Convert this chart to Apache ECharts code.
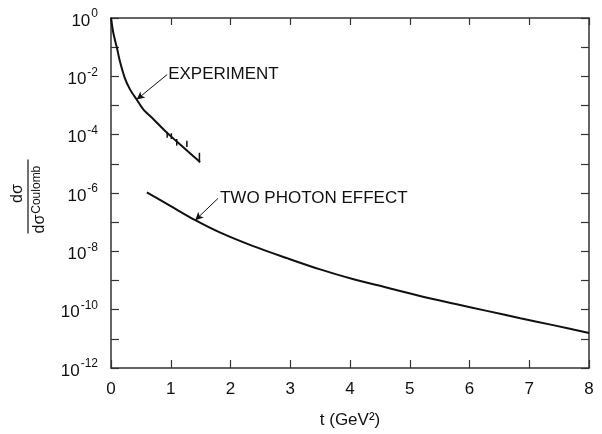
<!DOCTYPE html>
<html>
<head>
<meta charset="utf-8">
<script src="https://cdn.jsdelivr.net/npm/echarts@6/dist/echarts.min.js"></script>
<style>
  html, body { margin: 0; padding: 0; background: #fff; }
  #chart { width: 602px; height: 434px; }
</style>
</head>
<body>
<div id="chart"></div>
<script>
// 測定値と二光子効果の比 (dσ/dσ_Coulomb) — 図から読み取った値

const xTicks = [0, 1, 2, 3, 4, 5, 6, 7, 8];

// 実験曲線
const expT = [0, 0.04, 0.10, 0.15, 0.23, 0.32, 0.43, 0.54, 0.71, 0.93, 1.21, 1.49];
const expVal = [1.0, 0.30, 0.093, 0.032, 8.9e-3, 3.5e-3, 1.6e-3, 7.4e-4, 3.4e-4, 1.2e-4, 3.7e-5, 1.15e-5];

// 実験点のエラーバー (下限・上限)
const barT = [0.94, 1.01, 1.10, 1.27, 1.48];
const barLo = [7.9e-5, 7.1e-5, 4.2e-5, 3.8e-5, 1.1e-5];
const barHi = [1.26e-4, 1.12e-4, 7.1e-5, 6.2e-5, 2.4e-5];

// 二光子効果
const tpeT = [0.60, 1.0, 1.41, 1.82, 2.38, 2.94, 3.50, 4.06, 4.61, 5.17, 5.73, 6.29, 6.85, 7.40, 8.0];
const tpeVal = [1.05e-6, 3.55e-7, 1.17e-7, 4.47e-8, 1.51e-8, 5.89e-9, 2.40e-9, 1.10e-9,
                5.75e-10, 2.95e-10, 1.62e-10, 9.1e-11, 5.1e-11, 2.95e-11, 1.58e-11];

// 注記 (矢印の始点と先端)
const expArrow = [[0.94, 1.15e-2], [0.43, 1.6e-3]];
const tpeArrow = [[1.79, 6.5e-7], [1.41, 1.17e-7]];

const FONT = 'Liberation Sans';
const INK = '#111';
const AXIS = '#333';

function zip(a, b) {
    return a.map((v, i) => [v, b[i]]);
}

function yLabel(v) {
    const e = Math.round(Math.log10(v));
    if (e % 2 !== 0) return '';
    return '{b|10}{s|' + (e === 0 ? '0' : '-' + (-e)) + '}';
}

const axisLineStyle = { color: AXIS, width: 1.5 };
const tickStyle = { color: AXIS, width: 1.2 };

const chart = echarts.init(document.getElementById('chart'), null, { renderer: 'canvas' });

const option = {
    animation: false,
    backgroundColor: '#fff',
    grid: { left: 111, right: 13, top: 18, bottom: 63 },
    xAxis: [
        {
            type: 'value', min: 0, max: 8, interval: 1, position: 'bottom',
            axisLine: { onZero: false, lineStyle: axisLineStyle },
            axisTick: { inside: true, length: 8, lineStyle: tickStyle },
            axisLabel: { margin: 13, fontSize: 17, color: INK, fontFamily: FONT,
                         formatter: v => xTicks.includes(v) ? String(v) : '' },
            splitLine: { show: false },
            name: 't (GeV²)', nameLocation: 'middle', nameGap: 44,
            nameTextStyle: { fontSize: 17, color: INK, fontFamily: FONT }
        },
        {
            type: 'value', min: 0, max: 8, interval: 1, position: 'top',
            axisLine: { onZero: false, lineStyle: axisLineStyle },
            axisTick: { inside: true, length: 7, lineStyle: tickStyle },
            axisLabel: { show: false },
            splitLine: { show: false }
        }
    ],
    yAxis: [
        {
            type: 'log', logBase: 10, min: 1e-12, max: 1, interval: 1, position: 'left',
            axisLine: { show: true, onZero: false, lineStyle: axisLineStyle },
            axisTick: { show: true, inside: true, length: 8, lineStyle: tickStyle },
            axisLabel: {
                margin: 13, color: INK, formatter: yLabel,
                rich: {
                    b: { fontSize: 17, fontFamily: FONT, color: INK, padding: [6, 0, 0, 0] },
                    s: { fontSize: 12, fontFamily: FONT, color: INK, padding: [0, 0, 8, 1] }
                }
            },
            splitLine: { show: false },
            minorTick: { show: false }
        },
        {
            type: 'log', logBase: 10, min: 1e-12, max: 1, interval: 1, position: 'right',
            axisLine: { show: true, onZero: false, lineStyle: axisLineStyle },
            axisTick: { show: true, inside: true, length: 8, lineStyle: tickStyle },
            axisLabel: { show: false },
            splitLine: { show: false }
        }
    ],
    series: [
        {
            name: 'EXPERIMENT', type: 'line', smooth: 0.3, symbol: 'none',
            data: zip(expT, expVal),
            lineStyle: { color: INK, width: 2 },
            markLine: {
                silent: true, symbol: ['none', 'arrow'], symbolSize: [6, 8],
                label: { show: false },
                lineStyle: { color: INK, width: 1, type: 'solid' },
                data: [[{ coord: expArrow[0] }, { coord: expArrow[1] }]]
            },
            markPoint: {
                silent: true, symbol: 'circle', symbolSize: 0,
                label: { show: true, position: 'right', distance: 1, formatter: 'EXPERIMENT',
                         fontSize: 17, color: INK, fontFamily: FONT },
                data: [{ coord: expArrow[0] }]
            }
        },
        {
            name: 'TWO PHOTON EFFECT', type: 'line', smooth: 0.3, symbol: 'none',
            data: zip(tpeT, tpeVal),
            lineStyle: { color: INK, width: 2 },
            markLine: {
                silent: true, symbol: ['none', 'arrow'], symbolSize: [6, 8],
                label: { show: false },
                lineStyle: { color: INK, width: 1, type: 'solid' },
                data: [[{ coord: tpeArrow[0] }, { coord: tpeArrow[1] }]]
            },
            markPoint: {
                silent: true, symbol: 'circle', symbolSize: 0,
                label: { show: true, position: 'right', distance: 2, formatter: 'TWO PHOTON EFFECT',
                         fontSize: 17, color: INK, fontFamily: FONT },
                data: [{ coord: tpeArrow[0] }]
            }
        },
        {
            // エラーバー
            type: 'custom', silent: true,
            data: barT.map((t, i) => [t, barLo[i], barHi[i]]),
            renderItem: (params, api) => {
                const lo = api.coord([api.value(0), api.value(1)]);
                const hi = api.coord([api.value(0), api.value(2)]);
                return {
                    type: 'line',
                    shape: { x1: lo[0], y1: lo[1], x2: hi[0], y2: hi[1] },
                    style: { stroke: INK, lineWidth: 1.5 }
                };
            }
        }
    ],
    graphic: [
        {
            type: 'group', left: 10, top: 157,
            children: [
                {
                    type: 'group', rotation: Math.PI / 2, x: 15, y: 37,
                    children: [
                        { type: 'line', shape: { x1: -37, y1: 0, x2: 37, y2: 0 },
                          style: { stroke: INK, lineWidth: 1.2 } },
                        { type: 'text', x: 3, y: -2,
                          style: { text: 'dσ', fontSize: 16, fontFamily: FONT, fill: INK,
                                   align: 'center', verticalAlign: 'bottom' } },
                        { type: 'text', x: -37, y: 3,
                          style: { text: '{d|dσ}{c|Coulomb}', align: 'left', verticalAlign: 'top',
                                   rich: {
                                       d: { fontSize: 16, fontFamily: FONT, fill: INK },
                                       c: { fontSize: 12, fontFamily: FONT, fill: INK, padding: [0, 0, 6, 1] }
                                   } } }
                    ]
                }
            ]
        }
    ]
};

chart.setOption(option);
</script>
</body>
</html>
